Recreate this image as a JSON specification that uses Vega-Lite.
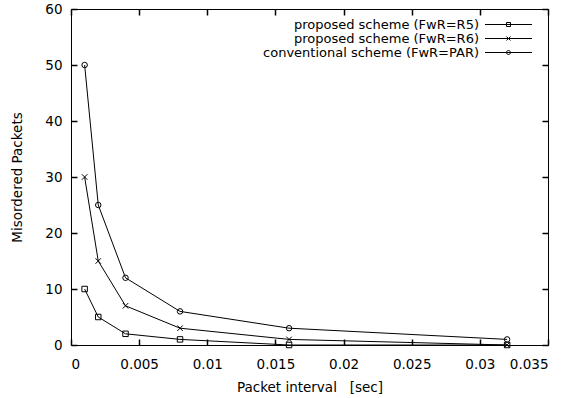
{
  "$schema": "https://vega.github.io/schema/vega-lite/v6.json",
  "width": 477,
  "height": 336,
  "autosize": {"type": "none"},
  "padding": {"left": 71, "top": 9, "right": 21, "bottom": 53},
  "background": "white",
  "config": {
    "view": {"stroke": "black", "strokeWidth": 1},
    "font": "DejaVu Sans",
    "axis": {"grid": false, "domain": false, "ticks": true, "zindex": 1, "tickColor": "black", "tickOpacity": 1, "tickSize": 6, "offset": -6, "tickWidth": 1.5, "labelColor": "black", "titleColor": "black", "labelFont": "DejaVu Sans", "titleFont": "DejaVu Sans", "labelFontSize": 13.5, "titleFontSize": 13.5, "titleFontWeight": "normal"}
  },
  "data": {
    "values": [
      {"series": "proposed scheme (FwR=R5)", "interval": 0.001, "packets": 10},
      {"series": "proposed scheme (FwR=R5)", "interval": 0.002, "packets": 5},
      {"series": "proposed scheme (FwR=R5)", "interval": 0.004, "packets": 2},
      {"series": "proposed scheme (FwR=R5)", "interval": 0.008, "packets": 1},
      {"series": "proposed scheme (FwR=R5)", "interval": 0.016, "packets": 0},
      {"series": "proposed scheme (FwR=R5)", "interval": 0.032, "packets": 0},
      {"series": "proposed scheme (FwR=R6)", "interval": 0.001, "packets": 30},
      {"series": "proposed scheme (FwR=R6)", "interval": 0.002, "packets": 15},
      {"series": "proposed scheme (FwR=R6)", "interval": 0.004, "packets": 7},
      {"series": "proposed scheme (FwR=R6)", "interval": 0.008, "packets": 3},
      {"series": "proposed scheme (FwR=R6)", "interval": 0.016, "packets": 1},
      {"series": "proposed scheme (FwR=R6)", "interval": 0.032, "packets": 0},
      {"series": "conventional scheme (FwR=PAR)", "interval": 0.001, "packets": 50},
      {"series": "conventional scheme (FwR=PAR)", "interval": 0.002, "packets": 25},
      {"series": "conventional scheme (FwR=PAR)", "interval": 0.004, "packets": 12},
      {"series": "conventional scheme (FwR=PAR)", "interval": 0.008, "packets": 6},
      {"series": "conventional scheme (FwR=PAR)", "interval": 0.016, "packets": 3},
      {"series": "conventional scheme (FwR=PAR)", "interval": 0.032, "packets": 1}
    ]
  },
  "layer": [
    {
      "mark": {"type": "line", "color": "black", "strokeWidth": 1, "clip": false},
      "encoding": {
        "x": {"field": "interval", "type": "quantitative", "scale": {"domain": [0, 0.035], "nice": false, "zero": false},
          "axis": {"orient": "bottom", "values": [0, 0.005, 0.01, 0.015, 0.02, 0.025, 0.03, 0.035], "format": "~g", "labelPadding": 12, "title": "Packet interval \u00a0\u00a0[sec]", "titlePadding": 10}},
        "y": {"field": "packets", "type": "quantitative", "scale": {"domain": [0, 60], "nice": false},
          "axis": {"orient": "left", "values": [0, 10, 20, 30, 40, 50, 60], "labelPadding": 9, "title": "Misordered Packets", "titlePadding": 20}},
        "detail": {"field": "series"}
      }
    },
    {
      "mark": {"type": "point", "filled": false, "color": "black", "strokeWidth": 1, "size": 30, "opacity": 1, "clip": false},
      "encoding": {
        "x": {"field": "interval", "type": "quantitative",
          "axis": {"orient": "top", "values": [0, 0.005, 0.01, 0.015, 0.02, 0.025, 0.03, 0.035], "labels": false, "title": null}},
        "y": {"field": "packets", "type": "quantitative",
          "axis": {"orient": "right", "values": [0, 10, 20, 30, 40, 50, 60], "labels": false, "title": null}},
        "shape": {"field": "series", "type": "nominal",
          "scale": {"domain": ["proposed scheme (FwR=R5)", "proposed scheme (FwR=R6)", "conventional scheme (FwR=PAR)"], "range": ["square", "M-1,-1L1,1M1,-1L-1,1", "circle"]},
          "legend": null}
      }
    },
    {
      "mark": {"type": "point", "filled": false, "color": "black", "strokeWidth": 1, "size": 0, "clip": false},
      "encoding": {
        "x": {"field": "interval", "type": "quantitative", "axis": null},
        "y": {"field": "packets", "type": "quantitative", "axis": null},
        "shape": {"field": "series", "type": "nominal",
          "scale": {"domain": ["proposed scheme (FwR=R5)", "proposed scheme (FwR=R6)", "conventional scheme (FwR=PAR)"],
            "range": ["M-5.875,0H5.875M-0.5,-0.5H0.5V0.5H-0.5Z", "M-5.875,0H5.875M-0.5,-0.5L0.5,0.5M0.5,-0.5L-0.5,0.5", "M-5.875,0H5.875M-0.5,0A0.5,0.5,0,1,0,0.5,0A0.5,0.5,0,1,0,-0.5,0"]},
          "legend": {
            "title": null, "orient": "none", "legendX": 431, "legendY": 9, "padding": 0,
            "labelAlign": "right", "labelOffset": -36, "labelLimit": 0, "labelFont": "DejaVu Sans", "labelFontSize": 13, "labelColor": "black",
            "symbolSize": 64, "rowPadding": -12, "symbolStrokeColor": "black", "symbolFillColor": "transparent", "symbolStrokeWidth": 1, "symbolOpacity": 1
          }}
      }
    }
  ],
  "resolve": {"axis": {"x": "independent", "y": "independent"}, "scale": {"shape": "independent"}}
}
